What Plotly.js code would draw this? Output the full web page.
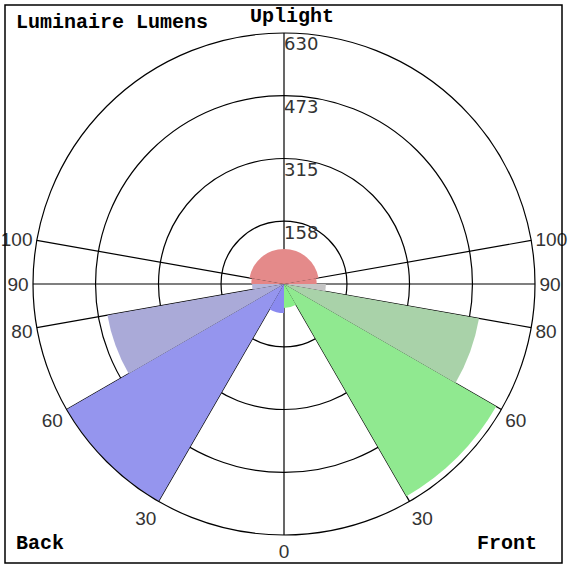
<!DOCTYPE html>
<html>
<head>
<meta charset="utf-8">
<script src="https://cdn.plot.ly/plotly-3.0.1.min.js"></script>
<style>html,body{margin:0;padding:0;background:#fff;}#chart{width:569px;height:572px;}</style>
</head>
<body>
<div id="chart"></div>
<script>
// Zones (LCS): name, start angle, end angle (degrees from nadir; back side mirrored), lumens
const zoneNames  = ['FL', 'FM', 'FH', 'FVH', 'BL', 'BM', 'BH', 'BVH', 'UL', 'UL', 'UH'];
const zoneStart  = [0, 30, 60, 80, 330, 300, 280, 270, 90, 260, 100];
const zoneEnd    = [30, 60, 80, 90, 360, 330, 300, 280, 100, 270, 260];
const zoneLumens = [60, 615, 497, 105, 73, 630, 450, 80, 82, 82, 88];

// Axis ticks
const radialTicks = [158, 315, 473, 630];
const radialLabels = ['158', '315', '473', '630'];
const angleTicks  = [0, 30, 60, 80, 90, 100, 180, 260, 270, 280, 300, 330];
const angleLabels = ['0', '30', '60', '80', '90', '100', '', '100', '90', '80', '60', '30'];

const zoneColor = {
  FL: '#88ee88', FM: '#90e990', FH: '#a9d2a9', FVH: '#c4c4c4',
  BL: '#8a8af0', BM: '#9595ee', BH: '#aaaad8', BVH: '#b4b4d8',
  UL: '#e58585', UH: '#e48a8a'
};

const traces = zoneNames.map((n, i) => ({
  type: 'barpolar',
  name: n,
  r: [zoneLumens[i]],
  theta: [(zoneStart[i] + zoneEnd[i]) / 2],
  width: [zoneEnd[i] - zoneStart[i]],
  marker: {color: zoneColor[n], line: {width: 0}},
  hoverinfo: 'skip',
  showlegend: false
}));

const radialFont = {family: 'DejaVu Sans, Verdana, sans-serif', size: 18, color: '#333'};
const angularFont = {family: 'Liberation Sans, Arial, sans-serif', size: 19, color: '#333'};
const rMax = radialTicks[radialTicks.length - 1];
const labelInset = 10; // small inward offset so labels sit just under each ring

// radial tick labels on the vertical (uplight) axis
traces.push({
  type: 'scatterpolar',
  mode: 'text',
  r: radialTicks.map(v => v - labelInset),
  theta: radialTicks.map(() => 180),
  text: radialLabels,
  textposition: 'bottom right',
  textfont: radialFont,
  hoverinfo: 'skip',
  showlegend: false,
  cliponaxis: false
});

const L = 33, R = 34, T = 33, B = 37;
const W = 569, H = 572;
const pw = W - L - R, ph = H - T - B;
function px(x) { return (x - L) / pw; }
function py(y) { return (H - B - y) / ph; }

const titleFont = {family: 'Liberation Mono, Courier New, monospace', size: 20, color: '#000'};

const layout = {
  width: W, height: H,
  margin: {l: L, r: R, t: T, b: B},
  paper_bgcolor: '#fff',
  showlegend: false,
  polar: {
    domain: {x: [0, 1], y: [0, 1]},
    bgcolor: '#fff',
    bargap: 0,
    radialaxis: {
      range: [0, rMax],
      tickvals: radialTicks,
      showticklabels: false,
      ticks: '',
      showline: false,
      gridcolor: '#000',
      gridwidth: 1.2,
      layer: 'above traces',
      angle: 90
    },
    angularaxis: {
      rotation: 270,
      direction: 'counterclockwise',
      tickmode: 'array',
      tickvals: angleTicks,
      ticktext: angleLabels,
      ticks: '',
      showline: true,
      linecolor: '#000',
      linewidth: 1.2,
      gridcolor: '#000',
      gridwidth: 1.2,
      layer: 'above traces',
      tickfont: angularFont
    }
  },
  shapes: [{
    type: 'rect', xref: 'paper', yref: 'paper',
    x0: px(5), x1: px(562), y0: py(563), y1: py(5),
    line: {color: '#000', width: 1.5}, fillcolor: 'rgba(0,0,0,0)'
  }],
  annotations: [
    {text: '<b>Luminaire Lumens</b>', xref: 'paper', yref: 'paper', x: px(14), y: py(22), xanchor: 'left', yanchor: 'middle', showarrow: false, font: titleFont},
    {text: '<b>Uplight</b>', xref: 'paper', yref: 'paper', x: px(292), y: py(16), xanchor: 'center', yanchor: 'middle', showarrow: false, font: titleFont},
    {text: '<b>Back</b>', xref: 'paper', yref: 'paper', x: px(14), y: py(543), xanchor: 'left', yanchor: 'middle', showarrow: false, font: titleFont},
    {text: '<b>Front</b>', xref: 'paper', yref: 'paper', x: px(539), y: py(543), xanchor: 'right', yanchor: 'middle', showarrow: false, font: titleFont}
  ]
};

Plotly.newPlot('chart', traces, layout, {staticPlot: true, displayModeBar: false});
</script>
</body>
</html>
